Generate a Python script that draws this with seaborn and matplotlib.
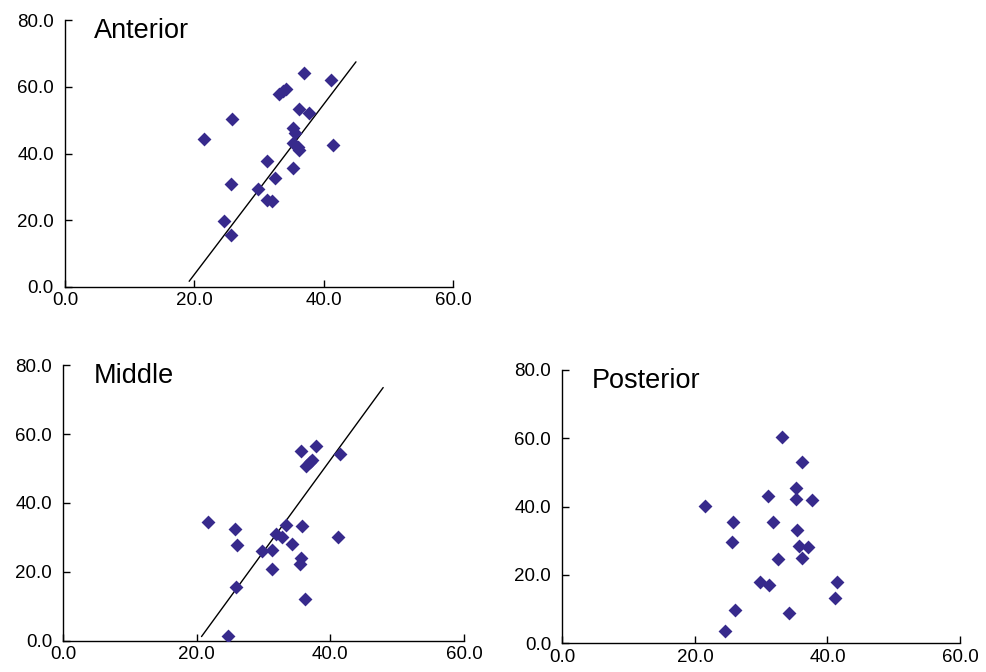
import matplotlib
matplotlib.use("Agg")
import matplotlib.pyplot as plt
import pandas as pd
import seaborn as sns

# values
anterior_x = [21.5, 25.9, 25.7, 24.6, 25.6, 29.8, 31.2, 31.2, 32.0, 32.5, 33.1, 33.7,
              34.2, 37.0, 41.1, 36.2, 37.7, 35.3, 35.6, 35.3, 36.0, 36.2, 35.3, 41.5]
anterior_y = [44.4, 50.3, 30.8, 19.9, 15.7, 29.3, 37.7, 26.1, 25.8, 32.6, 57.9, 58.9,
              59.5, 64.2, 62.0, 53.3, 52.1, 47.6, 46.3, 43.1, 42.1, 41.1, 35.6, 42.7]
anterior_line_x = [19.2, 45.0]
anterior_line_y = [1.7, 67.5]

middle_x = [21.6, 25.7, 26.0, 25.8, 24.6, 29.8, 31.2, 31.2, 31.8, 32.7, 33.3, 34.3,
            35.6, 37.8, 36.3, 36.9, 37.3, 41.5, 35.8, 41.1, 35.6, 35.5, 36.2]
middle_y = [34.6, 32.3, 27.8, 15.5, 1.3, 26.0, 26.2, 20.7, 31.1, 30.0, 33.6, 28.0,
            55.1, 56.6, 50.7, 51.9, 52.4, 54.3, 33.2, 30.0, 23.9, 22.4, 12.2]
middle_line_x = [20.7, 47.9]
middle_line_y = [1.2, 73.5]

posterior_x = [21.5, 25.8, 25.6, 26.0, 24.6, 29.8, 31.2, 31.1, 31.8, 32.5, 33.1,
               34.2, 35.3, 35.3, 35.4, 35.7, 36.1, 36.2, 37.1, 37.7, 41.1, 41.5]
posterior_y = [40.3, 35.6, 29.6, 9.8, 3.7, 18.0, 17.1, 43.1, 35.6, 24.8, 60.3,
               8.8, 45.4, 42.1, 33.2, 28.5, 24.9, 52.9, 28.1, 42.0, 13.2, 18.0]

ticks_x = [0, 20, 40, 60]
ticks_y = [0, 20, 40, 60, 80]

sns.set_style("ticks")
plt.rcParams["font.family"] = ["Liberation Sans", "DejaVu Sans"]
plt.rcParams["text.color"] = "black"

POINT_COLOR = "#372a8c"

fig = plt.figure(figsize=(9.87, 6.72), dpi=100)
ax_a = fig.add_axes([0.0659, 0.573, 0.393, 0.397])
ax_m = fig.add_axes([0.0641, 0.0466, 0.406, 0.410])
ax_p = fig.add_axes([0.5697, 0.0427, 0.403, 0.407])

panels = [
    (ax_a, "Anterior", anterior_x, anterior_y, anterior_line_x, anterior_line_y),
    (ax_m, "Middle", middle_x, middle_y, middle_line_x, middle_line_y),
    (ax_p, "Posterior", posterior_x, posterior_y, None, None),
]

for ax, name, xs, ys, lx, ly in panels:
    df = pd.DataFrame({"x": xs, "y": ys})
    if lx is not None:
        ax.plot(lx, ly, color="black", linewidth=1.0, zorder=2)
    sns.scatterplot(data=df, x="x", y="y", ax=ax, marker="D", s=50,
                    color=POINT_COLOR, linewidth=0, zorder=3)
    ax.set_xlim(0, 60)
    ax.set_ylim(0, 80)
    ax.set_xticks(ticks_x)
    ax.set_yticks(ticks_y)
    ax.set_xticklabels([f"{t:.1f}" for t in ticks_x])
    ax.set_yticklabels([f"{t:.1f}" for t in ticks_y])
    ax.tick_params(direction="in", length=5, width=1, labelsize=13.5, colors="black")
    ax.tick_params(axis="x", pad=4)
    ax.tick_params(axis="y", pad=8)
    ax.set_xlabel("")
    ax.set_ylabel("")
    for side in ["top", "right"]:
        ax.spines[side].set_visible(False)
    for side in ["left", "bottom"]:
        ax.spines[side].set_color("black")
        ax.spines[side].set_linewidth(1.0)
    ax.text(0.075, 0.96, name, transform=ax.transAxes, fontsize=19.5,
            ha="left", va="center", color="black")

fig.savefig("out.png", dpi=100)
